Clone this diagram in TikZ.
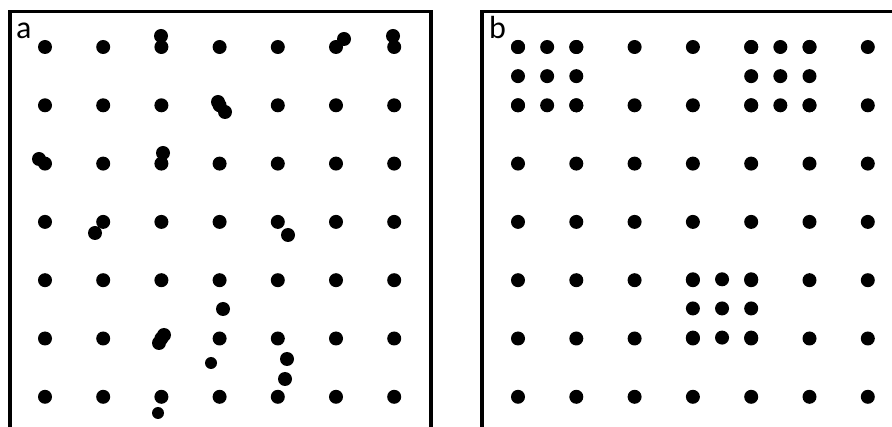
\documentclass[tikz,border=0pt]{standalone}
\usepackage{fontspec}
\setmainfont{Carlito}
\tikzset{
  dot/.style={fill=black, radius=7pt},
  smalldot/.style={fill=black, radius=6pt},
  frame/.style={line width=3.5pt},
  panellabel/.style={font=\fontsize{32}{36}\selectfont, inner sep=0pt, anchor=base west}
}
\begin{document}
\begin{tikzpicture}[x=1pt, y=-1pt]
  \useasboundingbox (0,0) rectangle (892,427);
  % Panel a: frame and label
  \draw[frame] (10,427) -- (10,11.5) -- (431,11.5) -- (431,427);
  \node[panellabel] (la) at (16,38.5) {a};
  % Panel a: regular grid
  \foreach \i in {0,...,6}
    \foreach \j in {0,...,6}
      \fill[dot] ({45+58.2*\i},{47+58.3*\j}) circle;
  % Panel a: displaced dots
  \foreach \p in {(161,36), (344,39), (393,36), (218,102), (225,112),
                  (39,159), (163,153), (95,233), (288,235), (223,309),
                  (164,335), (159,343), (287,359), (285,379)}
    \fill[dot] \p circle;
  \fill[smalldot] (211,363) circle;
  \fill[smalldot] (158,413) circle;
  % Panel b: frame and label
  \draw[frame] (482,427) -- (482,11.5) -- (892,11.5);
  \node[panellabel] (lb) at (489,38.5) {b};
  % Panel b: regular grid
  \foreach \i in {0,...,6}
    \foreach \j in {0,...,6}
      \fill[dot] ({518+58.3*\i},{47+58.3*\j}) circle;
  % Panel b: dense 3x3 clusters
  \foreach \cx/\cy in {547.15/76.15, 780.35/76.15, 722.05/308.45}
    \foreach \u in {-1,0,1}
      \foreach \v in {-1,0,1}
        \fill[dot] ({\cx+29.15*\u},{\cy+29.15*\v}) circle;
\end{tikzpicture}
\end{document}
